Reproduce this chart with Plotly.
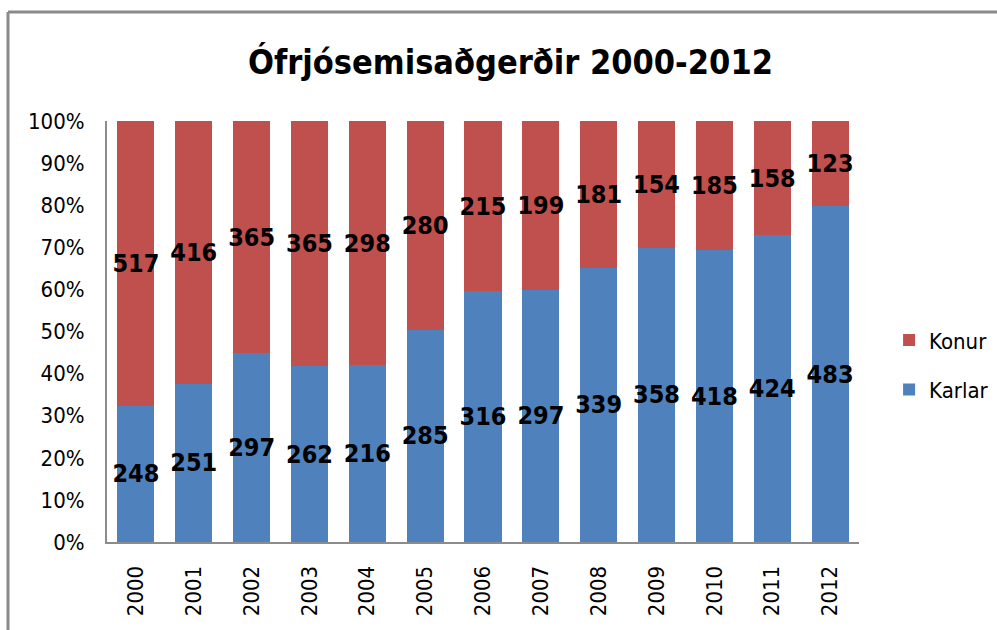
import plotly.graph_objects as go

years = [str(y) for y in range(2000, 2013)]
karlar = [248, 251, 297, 262, 216, 285, 316, 297, 339, 358, 418, 424, 483]
konur = [517, 416, 365, 365, 298, 280, 215, 199, 181, 154, 185, 158, 123]
ytick_vals = [0, 10, 20, 30, 40, 50, 60, 70, 80, 90, 100]
ytick_text = [f"{v}%" for v in ytick_vals]

BLUE = "#4F81BD"
RED = "#C0504D"
LABEL_FONT = dict(family="DejaVu Sans Condensed, DejaVu Sans", size=25, color="black", weight="bold")
TICK_FONT = dict(family="DejaVu Sans Condensed, DejaVu Sans", size=22, color="black")

fig = go.Figure()
fig.add_trace(go.Bar(
    x=years, y=karlar, name="Karlar", marker=dict(color=BLUE, line=dict(width=0)),
    text=karlar, texttemplate="%{text}", textposition="inside", insidetextanchor="middle",
    textangle=0, constraintext="none", textfont=LABEL_FONT, legendgroup="b", legendrank=2,
))
fig.add_trace(go.Bar(
    x=years, y=konur, name="Konur", marker=dict(color=RED, line=dict(width=0)),
    text=konur, texttemplate="%{text}", textposition="inside", insidetextanchor="middle",
    textangle=0, constraintext="none", textfont=LABEL_FONT, legendgroup="a", legendrank=1,
))

fig.update_layout(
    width=997, height=630,
    barmode="stack", barnorm="percent", bargap=0.36,
    plot_bgcolor="white", paper_bgcolor="white",
    margin=dict(l=107, r=138, t=121, b=88, autoexpand=False),
    title=dict(text="<b>Ófrjósemisaðgerðir 2000-2012</b>", x=0.512, xanchor="center",
               y=1 - 62 / 630, yref="container", yanchor="middle",
               font=dict(family="DejaVu Sans Condensed, DejaVu Sans", size=34, color="black")),
    xaxis=dict(tickangle=-90, tickfont=TICK_FONT, showline=True, linecolor="#8c8c8c", linewidth=2,
               showgrid=False, ticks="", ticklabelstandoff=13),
    yaxis=dict(range=[0, 100], tickvals=ytick_vals, ticktext=ytick_text, tickfont=TICK_FONT,
               showline=True, linecolor="#8c8c8c", linewidth=2, showgrid=False, zeroline=False,
               ticks="", ticklabelstandoff=16),
    legend=dict(x=1.04, xanchor="left", y=0.42, yanchor="middle", traceorder="grouped",
                tracegroupgap=18, font=dict(family="DejaVu Sans Condensed, DejaVu Sans", size=22, color="black"),
                itemwidth=30),
    showlegend=True,
)

# chart-area border (left and top edges visible)
fig.add_shape(type="line", xref="paper", yref="paper",
              x0=(8 - 107) / 752, x1=(8 - 107) / 752, y0=(542 - 12) / 421, y1=(542 - 700) / 421,
              line=dict(color="#8a8a8a", width=3))
fig.add_shape(type="line", xref="paper", yref="paper",
              x0=(8 - 107) / 752, x1=(1100 - 107) / 752, y0=(542 - 12) / 421, y1=(542 - 12) / 421,
              line=dict(color="#8a8a8a", width=3))

fig.write_html("out.html", config={"displayModeBar": False},
               post_script="document.body.style.margin='0';document.body.style.overflow='hidden';")
